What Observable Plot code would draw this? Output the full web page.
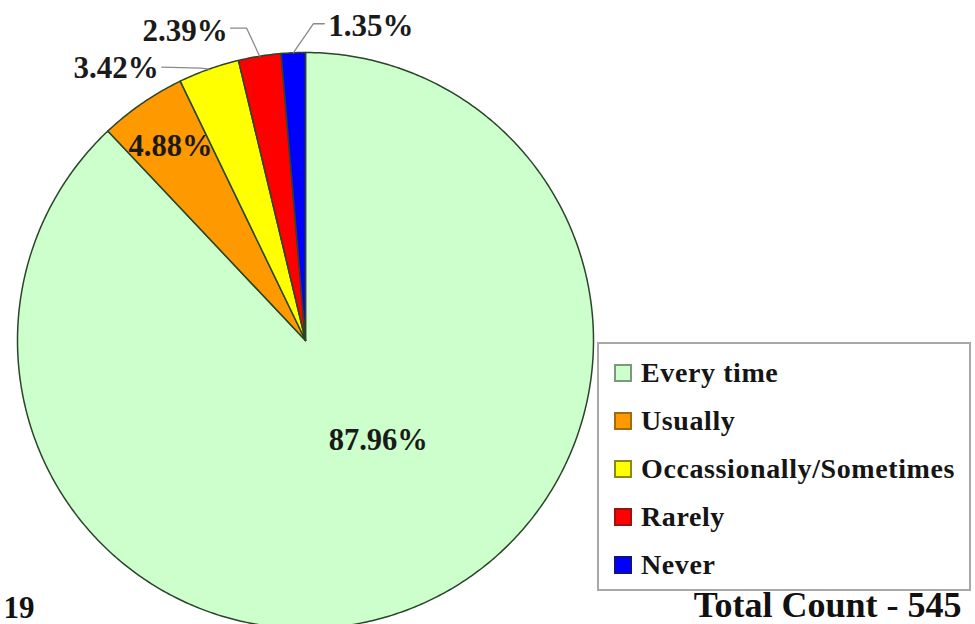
<!DOCTYPE html>
<html><head><meta charset="utf-8">
<script src="https://cdn.jsdelivr.net/npm/d3@7"></script>
<script src="https://cdn.jsdelivr.net/npm/@observablehq/plot@0.6"></script>
<style>
body{margin:0;background:#fff;}
#wrap{position:relative;width:975px;height:624px;overflow:hidden;font-family:"Liberation Serif","Times New Roman",serif;}
#legend{position:absolute;left:597px;top:342px;width:374px;height:249px;border:2px solid #a8a8a8;box-sizing:border-box;background:#fff;}
.row{position:absolute;left:15px;height:30px;display:flex;align-items:center;font-weight:bold;font-size:28px;letter-spacing:0.6px;color:#151515;white-space:nowrap;}
.sw{width:14px;height:14px;border:2px solid;margin-right:9px;flex:none;}
</style></head>
<body><div id="wrap"></div>
<script>
const categories = ["Every time", "Usually", "Occassionally/Sometimes", "Rarely", "Never"];
const percents = [87.96, 4.88, 3.42, 2.39, 1.35];
const labels = ["87.96%", "4.88%", "3.42%", "2.39%", "1.35%"];
const colors = ["#ccffcc", "#ff9900", "#ffff00", "#ff0000", "#0000ff"];
const swatchBorders = ["#7a9a7a", "#a06a10", "#8a8a10", "#a01010", "#10108a"];
const totalLabel = "Total Count - 545";
const pageLabel = "19";

const W = 975, H = 624, cx = 305, cy = 340, R = 288;
const data = categories.map((c, i) => ({cat: c, pct: percents[i], label: labels[i]}));
const arcs = d3.pie().sort(null).value(d => d.pct)(data);
const polar = (a, r) => [r * Math.sin(a), r * Math.cos(a)];

// slice polygons (geometry of each arc)
const poly = [];
for (const a of arcs) {
  const n = Math.max(4, Math.ceil((a.endAngle - a.startAngle) / 0.01));
  poly.push({cat: a.data.cat, x: 0, y: 0});
  for (let k = 0; k <= n; k++) {
    const t = a.startAngle + (a.endAngle - a.startAngle) * k / n;
    const [x, y] = polar(t, 1);
    poly.push({cat: a.data.cat, x, y});
  }
  poly.push({cat: a.data.cat, x: 0, y: 0});
}

const mid = a => (a.startAngle + a.endAngle) / 2;
// layout: inside labels (radius factor + pixel nudge), outside labels (pixel offsets from arc midpoint)
const inside = {"Every time": {r: 0.43, dx: 27, dy: -15}, "Usually": {r: 0.82, dx: -1, dy: 0}};
const outside = {
  "Occassionally/Sometimes": {elbow: [-8, -1], end: [-47, -2], text: [-50, -1], anchor: "end"},
  "Rarely": {elbow: [-13, -28], end: [-29, -28], text: [-32, -25], anchor: "end"},
  "Never": {elbow: [20, -29], end: [31, -29], text: [35, -27], anchor: "start"}
};
const inLabels = [], outLabels = [], leaders = [];
for (const a of arcs) {
  const c = a.data.cat, m = mid(a);
  if (inside[c]) {
    const L = inside[c]; const [x, y] = polar(m, L.r);
    inLabels.push({x: x + L.dx / R, y: y - L.dy / R, label: a.data.label});
  } else {
    const L = outside[c]; const [x, y] = polar(m, 1);
    leaders.push({cat: c, x, y});
    leaders.push({cat: c, x: x + L.elbow[0] / R, y: y - L.elbow[1] / R});
    leaders.push({cat: c, x: x + L.end[0] / R, y: y - L.end[1] / R});
    outLabels.push({x: x + L.text[0] / R, y: y - L.text[1] / R, label: a.data.label, anchor: L.anchor});
  }
}

const font = {fontFamily: "Liberation Serif, Times New Roman, serif", fontWeight: "bold"};
const chart = Plot.plot({
  width: W, height: H, margin: 0,
  style: {background: "transparent", overflow: "hidden"},
  x: {domain: [-1, 1], range: [cx - R, cx + R], axis: null},
  y: {domain: [-1, 1], range: [cy + R, cy - R], axis: null},
  color: {domain: categories, range: colors},
  marks: [
    Plot.line(poly, {x: "x", y: "y", z: "cat", fill: "cat", stroke: "#2a452a", strokeWidth: 1.5, strokeLinejoin: "round"}),
    Plot.line(leaders, {x: "x", y: "y", z: "cat", stroke: "#8a8a8a", strokeWidth: 1.3}),
    Plot.text(inLabels, {x: "x", y: "y", text: "label", fontSize: 30.5, fill: "#1a1a1a", ...font}),
    Plot.text(outLabels.filter(d => d.anchor === "end"), {x: "x", y: "y", text: "label", textAnchor: "end", fontSize: 31, fill: "#1a1a1a", ...font}),
    Plot.text(outLabels.filter(d => d.anchor === "start"), {x: "x", y: "y", text: "label", textAnchor: "start", fontSize: 31, fill: "#1a1a1a", ...font}),
    Plot.text([pageLabel], {text: d => d, frameAnchor: "bottom-left", lineAnchor: "bottom", dx: 3, dy: -7, fontSize: 31, fill: "#111", ...font}),
    Plot.text([totalLabel], {text: d => d, frameAnchor: "bottom-right", lineAnchor: "bottom", dx: -14, dy: -8, fontSize: 36, fill: "#111", ...font})
  ]
});
const wrap = document.getElementById("wrap");
wrap.appendChild(chart);

const legend = document.createElement("div");
legend.id = "legend";
categories.forEach((c, i) => {
  const row = document.createElement("div");
  row.className = "row";
  row.style.top = (14 + i * 48) + "px";
  const sw = document.createElement("span");
  sw.className = "sw";
  sw.style.background = colors[i];
  sw.style.borderColor = swatchBorders[i];
  row.appendChild(sw);
  row.appendChild(document.createTextNode(c));
  legend.appendChild(row);
});
wrap.appendChild(legend);
</script>
</body></html>
